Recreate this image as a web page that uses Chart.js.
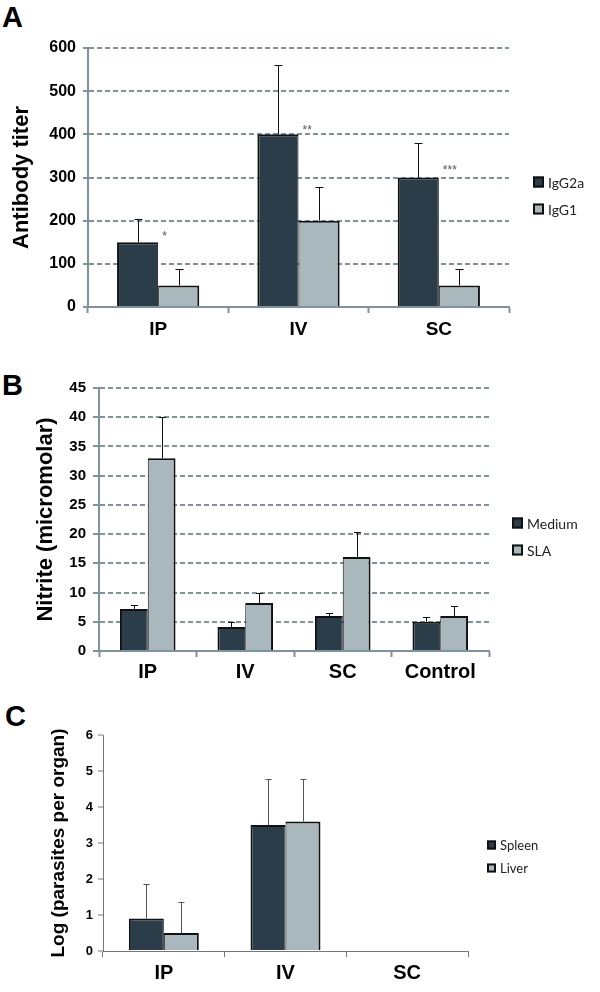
<!DOCTYPE html>
<html>
<head>
<meta charset="utf-8">
<script src="https://cdn.jsdelivr.net/npm/chart.js@4.4.1/dist/chart.umd.min.js"></script>
<style>
  body { margin: 0; background: #fff; }
  #page { position: relative; width: 600px; height: 992px; overflow: hidden; }
  canvas { position: absolute; left: 0; }
  .panel { position: absolute; font: bold 29px "Liberation Sans", Arial, sans-serif; line-height: 1; color: #000; }
</style>
</head>
<body>
<div id="page">
  <div class="panel" style="left:2px;top:3px">A</div>
  <div class="panel" style="left:2px;top:371px">B</div>
  <div class="panel" style="left:5px;top:702px">C</div>
  <canvas id="chartA" width="600" height="345" style="top:0"></canvas>
  <canvas id="chartB" width="600" height="345" style="top:345px"></canvas>
  <canvas id="chartC" width="600" height="302" style="top:690px"></canvas>
</div>
<script>
// A: antibody titer
const routesA = ['IP', 'IV', 'SC'];
const igg2a = [150, 400, 300];
const igg2aErr = [55, 161, 80];
const igg1 = [50, 200, 50];
const igg1Err = [38, 78, 38];
const starsA = ['*', '**', '***'];
const starLevelA = [170, 415, 322];

// B: nitrite
const routesB = ['IP', 'IV', 'SC', 'Control'];
const medium = [7.2, 4.1, 6.0, 5.0];
const mediumErr = [0.7, 0.9, 0.5, 0.8];
const sla = [33.0, 8.2, 16.1, 6.0];
const slaErr = [7.0, 1.7, 4.3, 1.7];

// C: parasite burden
const routesC = ['IP', 'IV', 'SC'];
const spleen = [0.9, 3.5, 0];
const spleenErr = [0.97, 1.28, 0];
const liver = [0.5, 3.6, 0];
const liverErr = [0.87, 1.18, 0];

const DARK = '#2b3d48';
const LIGHT = '#a9b8bd';
const GRID = '#7e939b';

Chart.defaults.font.family = '"Liberation Sans", Arial, sans-serif';
Chart.defaults.color = '#000';

function errorBars(errs, color, cap) {
  return {
    id: 'errorBars',
    afterDatasetsDraw(chart) {
      const ctx = chart.ctx;
      const y = chart.scales.y;
      ctx.save();
      ctx.strokeStyle = color;
      ctx.lineWidth = 1;
      errs.forEach((err, i) => {
        const vals = chart.data.datasets[i].data;
        chart.getDatasetMeta(i).data.forEach((bar, j) => {
          if (!err[j]) return;
          const top = Math.round(y.getPixelForValue(vals[j] + err[j])) + 0.5;
          const x = Math.round(bar.x) + 0.5;
          ctx.beginPath();
          ctx.moveTo(x, bar.y);
          ctx.lineTo(x, top);
          ctx.moveTo(x - cap / 2, top);
          ctx.lineTo(x + cap / 2, top);
          ctx.stroke();
        });
      });
      ctx.restore();
    }
  };
}

function boxLegend(left, top, gap, box, font) {
  return {
    id: 'boxLegend',
    afterDraw(chart) {
      const ctx = chart.ctx;
      ctx.save();
      ctx.font = font;
      ctx.textBaseline = 'middle';
      chart.data.datasets.forEach((ds, i) => {
        const y = top + i * gap;
        ctx.fillStyle = ds.backgroundColor;
        ctx.fillRect(left, y - box / 2, box, box);
        ctx.lineWidth = 2;
        ctx.strokeStyle = '#111';
        ctx.strokeRect(left + 1, y - box / 2 + 1, box - 2, box - 2);
        ctx.fillStyle = '#222';
        ctx.fillText(ds.label, left + box + 4, y + 1);
      });
      ctx.restore();
    }
  };
}

const starMarks = {
  id: 'starMarks',
  afterDatasetsDraw(chart) {
    const ctx = chart.ctx;
    const y = chart.scales.y;
    ctx.save();
    ctx.font = '12px "Liberation Sans", Arial, sans-serif';
    ctx.fillStyle = '#555';
    ctx.textAlign = 'left';
    ctx.textBaseline = 'middle';
    chart.getDatasetMeta(0).data.forEach((bar, j) => {
      ctx.fillText(starsA[j], bar.x + bar.width / 2 + 4, y.getPixelForValue(starLevelA[j]) + 3);
    });
    ctx.restore();
  }
};

function barSet(label, data, color, first) {
  return {
    label: label,
    data: data,
    backgroundColor: color,
    borderColor: '#111',
    borderWidth: first ? {top: 2, left: 2, right: 1, bottom: 0} : {top: 2, left: 1, right: 2, bottom: 0},
    borderSkipped: false,
    barPercentage: 1
  };
}

function makeChart(id, cfg) {
  const sets = [barSet(cfg.names[0], cfg.series[0], DARK, true), barSet(cfg.names[1], cfg.series[1], LIGHT, false)];
  sets.forEach(s => { s.categoryPercentage = cfg.catPct; });
  return new Chart(document.getElementById(id), {
    type: 'bar',
    data: { labels: cfg.labels, datasets: sets },
    options: {
      responsive: false,
      animation: false,
      events: [],
      layout: { padding: cfg.padding },
      plugins: { legend: { display: false }, tooltip: { enabled: false } },
      scales: {
        x: {
          grid: { drawOnChartArea: false, drawTicks: true, tickLength: 6, tickWidth: cfg.axisWidth, tickColor: cfg.axisColor, offset: true },
          border: { color: cfg.axisColor, width: cfg.axisWidth },
          ticks: { font: { size: cfg.xFont, weight: 'bold' }, color: '#000', padding: cfg.xPad },
          afterFit: s => { s.height = cfg.xHeight; }
        },
        y: {
          min: 0,
          max: cfg.max,
          ticks: { stepSize: cfg.step, font: { size: cfg.yFont, weight: 'bold' }, color: '#000', padding: cfg.yPad, autoSkip: false },
          grid: {
            drawOnChartArea: cfg.dashed,
            color: GRID,
            lineWidth: 2,
            tickLength: cfg.yTick,
            tickColor: cfg.axisColor,
            tickWidth: cfg.axisWidth
          },
          border: { color: cfg.axisColor, width: cfg.axisWidth, dash: [5, 3] },
          title: {
            display: true,
            text: cfg.title,
            font: { size: cfg.titleFont, weight: 'bold' },
            color: '#000',
            padding: { top: cfg.titlePad, bottom: 0 }
          },
          afterFit: s => { s.width = cfg.yWidth; }
        }
      }
    },
    plugins: cfg.plugins
  });
}

function draw() {
  makeChart('chartA', {
    labels: routesA, names: ['IgG2a', 'IgG1'], series: [igg2a, igg1], catPct: 0.586,
    padding: { left: 0, top: 48, right: 91, bottom: 0 },
    dashed: true, axisColor: GRID, axisWidth: 2,
    xFont: 19, xPad: 5, xHeight: 38,
    max: 600, step: 100, yFont: 16, yPad: 7, yTick: 5, yWidth: 88,
    title: 'Antibody titer', titleFont: 22, titlePad: 9,
    plugins: [errorBars([igg2aErr, igg1Err], '#111', 8), starMarks, boxLegend(533, 182, 27, 11, '14px Lato')]
  });
  makeChart('chartB', {
    labels: routesB, names: ['Medium', 'SLA'], series: [medium, sla], catPct: 0.57,
    padding: { left: 0, top: 43, right: 111, bottom: 0 },
    dashed: true, axisColor: GRID, axisWidth: 2,
    xFont: 20, xPad: 3, xHeight: 39,
    max: 45, step: 5, yFont: 15, yPad: 7, yTick: 6, yWidth: 99,
    title: 'Nitrite (micromolar)', titleFont: 22, titlePad: 33,
    plugins: [errorBars([mediumErr, slaErr], '#111', 7), boxLegend(512, 178, 27, 11, '14px Lato')]
  });
  makeChart('chartC', {
    labels: routesC, names: ['Spleen', 'Liver'], series: [spleen, liver], catPct: 0.575,
    padding: { left: 0, top: 45, right: 132, bottom: 0 },
    dashed: false, axisColor: '#777', axisWidth: 1,
    xFont: 20, xPad: 4, xHeight: 41,
    max: 6, step: 1, yFont: 13, yPad: 5, yTick: 5, yWidth: 103,
    title: 'Log (parasites per organ)', titleFont: 19, titlePad: 47,
    plugins: [errorBars([spleenErr, liverErr], '#555', 6), boxLegend(487, 155, 23, 9, '13px Lato')]
  });
}

document.fonts.load('14px Lato').then(draw, draw);
</script>
</body>
</html>
